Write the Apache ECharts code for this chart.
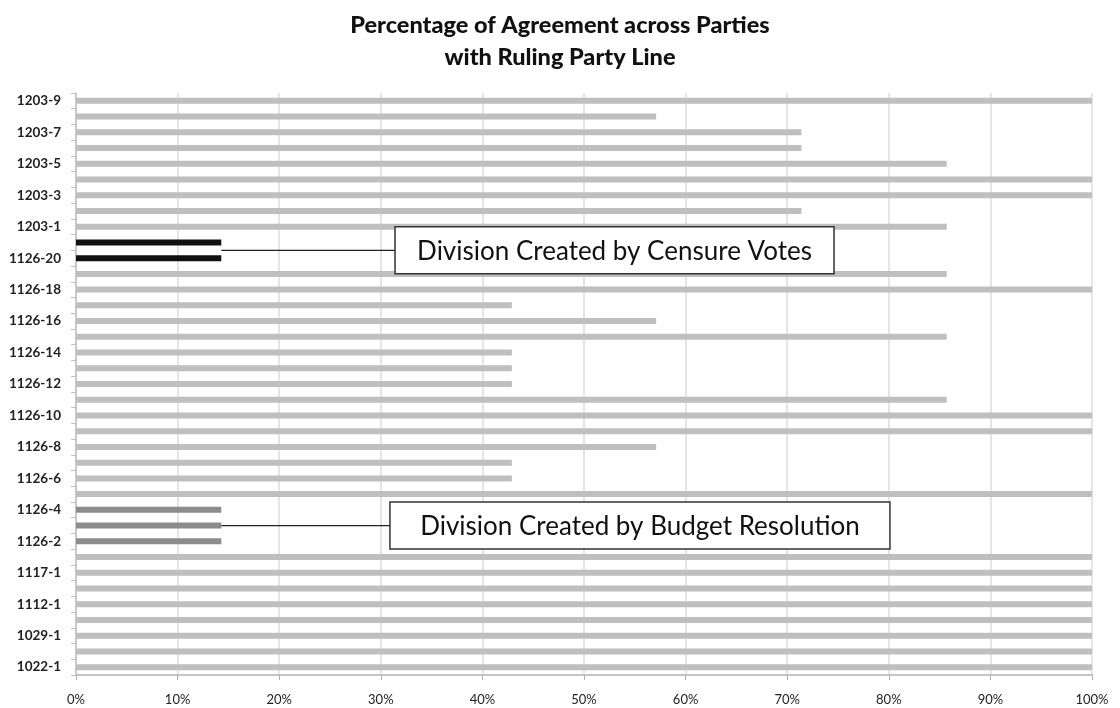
<!DOCTYPE html>
<html>
<head>
<meta charset="utf-8">
<script src="https://cdn.jsdelivr.net/npm/echarts@6/dist/echarts.min.js"></script>
<style>
  html, body { margin: 0; padding: 0; background: #ffffff; }
  #chart { width: 1120px; height: 708px; }
</style>
</head>
<body>
<div id="chart"></div>
<script>
// Divisions, listed top to bottom (most recent first)
const divisions = [
  '1203-9', '1203-8', '1203-7', '1203-6', '1203-5', '1203-4', '1203-3', '1203-2', '1203-1',
  '1126-21', '1126-20', '1126-19', '1126-18', '1126-17', '1126-16', '1126-15', '1126-14',
  '1126-13', '1126-12', '1126-11', '1126-10', '1126-9', '1126-8', '1126-7', '1126-6',
  '1126-5', '1126-4', '1126-3', '1126-2', '1126-1', '1117-1', '1112-2', '1112-1',
  '1105-1', '1029-1', '1022-2', '1022-1'
];

// Share of parties (out of 7) voting with the ruling party line, in percent
const agreement = [
  100, 57.1, 71.4, 71.4, 85.7, 100, 100, 71.4, 85.7,
  14.3, 14.3, 85.7, 100, 42.9, 57.1, 85.7, 42.9,
  42.9, 42.9, 85.7, 100, 100, 57.1, 42.9, 42.9,
  100, 14.3, 14.3, 14.3, 100, 100, 100, 100,
  100, 100, 100, 100
];

// Divisions picked out by the two annotations
const censureVotes = ['1126-21', '1126-20'];
const budgetResolution = ['1126-4', '1126-3', '1126-2'];

const xTicks = [0, 10, 20, 30, 40, 50, 60, 70, 80, 90, 100];

const FONT = 'Lato, "Open Sans", sans-serif';
const COLOR_BASE = '#bfbfbf';
const COLOR_CENSURE = '#111111';
const COLOR_BUDGET = '#8c8c8c';

const chart = echarts.init(document.getElementById('chart'), null, { renderer: 'canvas' });

const barData = agreement.map((v, i) => {
  const name = divisions[i];
  let color = COLOR_BASE;
  if (censureVotes.includes(name)) color = COLOR_CENSURE;
  else if (budgetResolution.includes(name)) color = COLOR_BUDGET;
  return { value: v, itemStyle: { color: color } };
});

chart.setOption({
  animation: false,
  backgroundColor: '#ffffff',
  title: {
    text: 'Percentage of Agreement across Parties\nwith Ruling Party Line',
    left: 'center',
    top: 4,
    textStyle: {
      fontFamily: FONT,
      fontWeight: 900,
      fontSize: 23.5,
      lineHeight: 32,
      color: '#111111'
    }
  },
  grid: { left: 76, right: 28, top: 93, bottom: 33, containLabel: false },
  xAxis: {
    type: 'value',
    min: xTicks[0],
    max: xTicks[xTicks.length - 1],
    interval: xTicks[1] - xTicks[0],
    axisLine: { show: true, lineStyle: { color: '#c4c4c4', width: 2 } },
    axisTick: { show: true, length: 5, lineStyle: { color: '#b0b0b0' } },
    axisLabel: {
      formatter: '{value}%',
      fontFamily: FONT,
      fontSize: 13,
      color: '#222222',
      margin: 18
    },
    splitLine: { show: true, lineStyle: { color: '#dcdcdc', width: 1.5 } }
  },
  yAxis: {
    type: 'category',
    data: divisions,
    inverse: true,
    axisLine: { show: true, lineStyle: { color: '#bfbfbf', width: 1.5 } },
    axisTick: { show: true, interval: 0, length: 5, alignWithLabel: false, lineStyle: { color: '#bfbfbf' } },
    axisLabel: {
      interval: 1,
      fontFamily: FONT,
      fontSize: 13.5,
      fontWeight: 'bold',
      color: '#222222',
      margin: 15
    },
    splitLine: { show: false }
  },
  series: [{
    type: 'bar',
    data: barData,
    barWidth: 6,
    silent: true
  }]
});

// Annotation boxes with connector lines, anchored to the axes
function annotate(names, label, boxLeftValue, boxWidth) {
  const ys = names.map(n => chart.convertToPixel({ yAxisIndex: 0 }, n));
  const yMid = (Math.min(...ys) + Math.max(...ys)) / 2;
  const idx = divisions.indexOf(names[0]);
  const xEnd = chart.convertToPixel({ xAxisIndex: 0 }, agreement[idx]);
  const xBox = chart.convertToPixel({ xAxisIndex: 0 }, boxLeftValue);
  const boxH = 47;
  return [
    {
      type: 'line',
      shape: { x1: xEnd, y1: yMid, x2: xBox, y2: yMid },
      style: { stroke: '#222222', lineWidth: 1.2 },
      z: 10
    },
    {
      type: 'rect',
      shape: { x: xBox, y: yMid - boxH / 2, width: boxWidth, height: boxH },
      style: { fill: '#ffffff', stroke: '#333333', lineWidth: 1.5 },
      z: 10
    },
    {
      type: 'text',
      x: xBox + boxWidth / 2,
      y: yMid + 1,
      style: {
        text: label,
        fontFamily: FONT,
        fontSize: 26,
        fill: '#111111',
        align: 'center',
        verticalAlign: 'middle'
      },
      z: 11
    }
  ];
}

chart.setOption({
  graphic: [
    ...annotate(censureVotes, 'Division Created by Censure Votes', 31.4, 439),
    ...annotate(budgetResolution, 'Division Created by Budget Resolution', 30.9, 500)
  ]
});
</script>
</body>
</html>
